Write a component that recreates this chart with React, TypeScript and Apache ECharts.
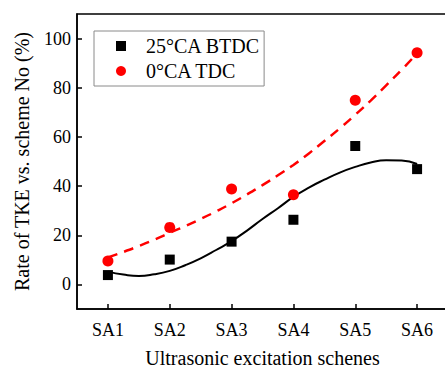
import React, { useEffect, useRef } from "react";
import * as echarts from "echarts";

// Excitation schemes on the x axis
const categories = ["SA1", "SA2", "SA3", "SA4", "SA5", "SA6"];
const schemeIndex = [1, 2, 3, 4, 5, 6];

// Measured TKE rates (%)
const btdcValues = [3.8, 10.1, 17.4, 26.3, 56.3, 46.9];
const tdcValues = [9.5, 23.2, 38.8, 36.5, 74.9, 94.2];

// Fitted trend curves sampled every quarter scheme
const fitX = [
  1, 1.25, 1.5, 1.75, 2, 2.25, 2.5, 2.75, 3, 3.25, 3.5,
  3.75, 4, 4.25, 4.5, 4.75, 5, 5.25, 5.5, 5.75, 6,
];
const btdcFit = [
  5.2, 4.0, 3.4, 4.1, 5.5, 7.8, 10.6, 14.0, 17.6, 21.9, 26.6,
  31.0, 35.6, 39.4, 42.6, 45.5, 47.8, 49.6, 50.5, 50.4, 49.0,
];
const tdcFit = [
  11.0, 13.2, 15.6, 18.2, 21.0, 23.7, 26.6, 29.7, 33.0, 36.6, 40.4,
  44.4, 48.6, 53.3, 58.3, 63.5, 69.0, 74.8, 81.0, 87.3, 94.0,
];

// Y-axis tick labels
const yTicks = [0, 20, 40, 60, 80, 100];

const FONT = "Liberation Serif";

export default function App() {
  const ref = useRef<HTMLDivElement>(null);

  useEffect(() => {
    document.body.style.margin = "0";
    if (!ref.current) return;
    const chart = echarts.init(ref.current, null, { renderer: "svg" });

    const pair = (xs: number[], ys: number[]) => xs.map((x, i) => [x, ys[i]]);

    chart.setOption({
      animation: false,
      backgroundColor: "#ffffff",
      textStyle: { fontFamily: FONT },
      grid: {
        left: 77,
        top: 14,
        width: 371,
        height: 295,
        show: true,
        borderColor: "#000",
        borderWidth: 1.5,
        containLabel: false,
        outerBoundsMode: "none",
      },
      legend: {
        left: 94,
        top: 31,
        orient: "vertical",
        backgroundColor: "#fff",
        borderColor: "#8a8a8a",
        borderWidth: 1,
        borderRadius: 0,
        padding: [5, 4, 5, 22],
        itemWidth: 10,
        itemHeight: 10,
        itemGap: 5,
        textStyle: {
          fontFamily: FONT,
          fontSize: 20,
          color: "#000",
          lineHeight: 19,
          padding: [0, 0, 0, 15],
        },
        data: [
          { name: "25°CA BTDC", icon: "rect" },
          { name: "0°CA TDC", icon: "circle" },
        ],
      },
      xAxis: {
        type: "value",
        min: 0.5,
        max: 6.5,
        interval: 0.5,
        name: "Ultrasonic excitation schenes",
        nameLocation: "middle",
        nameGap: 39,
        nameTextStyle: { fontFamily: FONT, fontSize: 20, color: "#000", lineHeight: 20 },
        axisLine: { onZero: false, lineStyle: { color: "#000", width: 1.5 } },
        axisTick: {
          inside: true,
          length: 5,
          lineStyle: { color: "#000", width: 1.5 },
          customValues: schemeIndex,
        },
        axisLabel: {
          customValues: schemeIndex,
          formatter: (v: number) => categories[Math.round(v) - 1] ?? "",
          fontFamily: FONT,
          fontSize: 18,
          color: "#000",
          margin: 12,
        },
        splitLine: { show: false },
      },
      yAxis: {
        type: "value",
        min: -10,
        max: 110,
        interval: 10,
        name: "Rate of TKE vs. scheme No (%)",
        nameLocation: "middle",
        nameGap: 45,
        nameTextStyle: { fontFamily: FONT, fontSize: 20, color: "#000" },
        axisLine: { show: true, onZero: false, lineStyle: { color: "#000", width: 1.5 } },
        axisTick: {
          show: true,
          inside: true,
          length: 5,
          lineStyle: { color: "#000", width: 1.5 },
          customValues: yTicks,
        },
        axisLabel: {
          customValues: yTicks,
          fontFamily: FONT,
          fontSize: 18,
          color: "#000",
          margin: 6,
        },
        splitLine: { show: false },
      },
      series: [
        {
          name: "btdcFit",
          type: "line",
          data: pair(fitX, btdcFit),
          smooth: 0.5,
          showSymbol: false,
          lineStyle: { color: "#000", width: 2 },
          silent: true,
          z: 2,
        },
        {
          name: "tdcFit",
          type: "line",
          data: pair(fitX, tdcFit),
          smooth: 0.5,
          showSymbol: false,
          lineStyle: { color: "#ff0000", width: 2.5, type: [10, 7] },
          silent: true,
          z: 2,
        },
        {
          name: "25°CA BTDC",
          type: "scatter",
          data: pair(schemeIndex, btdcValues),
          symbol: "rect",
          symbolSize: 10,
          itemStyle: { color: "#000", opacity: 1 },
          z: 3,
        },
        {
          name: "0°CA TDC",
          type: "scatter",
          data: pair(schemeIndex, tdcValues),
          symbol: "circle",
          symbolSize: 11,
          itemStyle: { color: "#ff0000", opacity: 1 },
          z: 3,
        },
      ],
    });

    return () => chart.dispose();
  }, []);

  return <div ref={ref} style={{ width: 445, height: 366 }} />;
}
